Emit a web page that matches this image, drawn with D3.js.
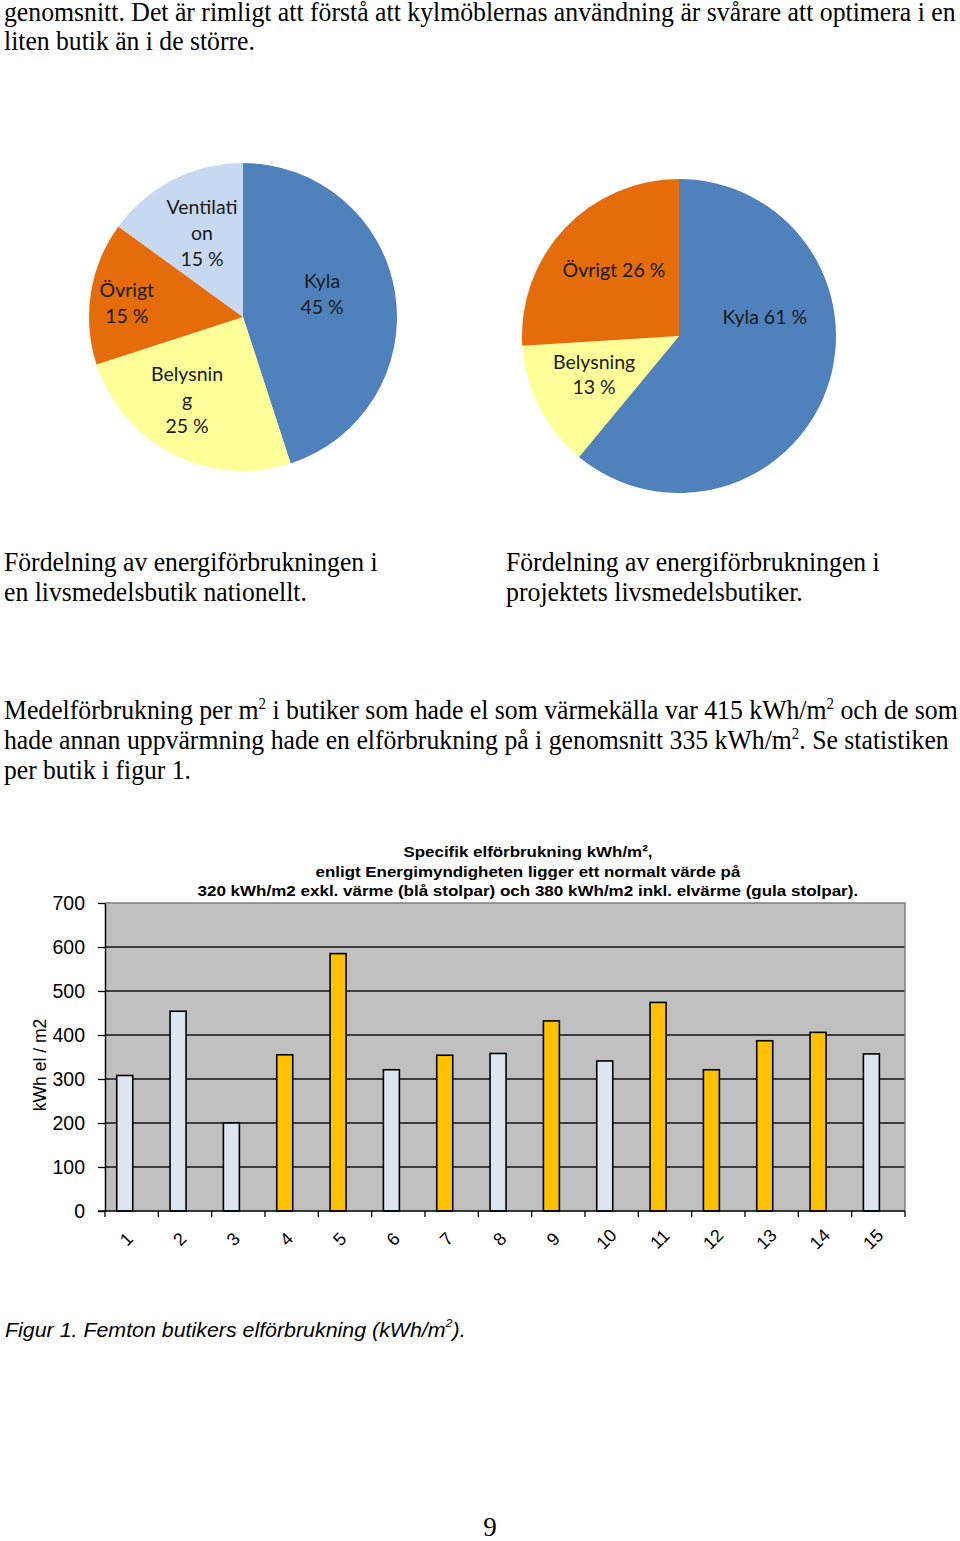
<!DOCTYPE html>
<html>
<head>
<meta charset="utf-8">
<script src="https://cdn.jsdelivr.net/npm/d3@7"></script>
<style>
  body { margin: 0; background: #fff; }
  .serif { font-family: "Liberation Serif", "Times New Roman", serif; font-size: 27px; fill: #000; }
  .sans { font-family: "Liberation Sans", Arial, sans-serif; fill: #000; }
  .pie-label { font-family: Lato, "Open Sans", sans-serif; font-size: 19.5px; fill: #1a1a1a; }
</style>
</head>
<body>
<svg id="page" width="960" height="1541"></svg>
<script>
// ============= Data =============

// national pie (Kyla, Belysning, Övrigt, Ventilation), clockwise from 12 o'clock
const nationalNames = ["Kyla", "Belysning", "Övrigt", "Ventilation"];
const nationalShares = [45, 25, 15, 15];
const nationalLabelLines = [["Kyla", "45 %"], ["Belysnin", "g", "25 %"], ["Övrigt", "15 %"], ["Ventilati", "on", "15 %"]];

// project pie
const projectNames = ["Kyla", "Belysning", "Övrigt"];
const projectShares = [61, 13, 26];
const projectLabelLines = [["Kyla 61 %"], ["Belysning", "13 %"], ["Övrigt 26 %"]];

// bar chart: specific electricity use per store
const stores = ["1", "2", "3", "4", "5", "6", "7", "8", "9", "10", "11", "12", "13", "14", "15"];
const usage = [308, 454, 200, 355, 585, 321, 354, 358, 432, 341, 474, 321, 387, 406, 357];
const heating = ["blå", "blå", "blå", "gul", "gul", "blå", "gul", "blå", "gul", "blå", "gul", "gul", "gul", "gul", "blå"];
const yTicks = [0, 100, 200, 300, 400, 500, 600, 700];

const chartTitle = [
    "Specifik elförbrukning kWh/m²,",
    "enligt Energimyndigheten ligger ett normalt värde på",
    "320 kWh/m2 exkl. värme (blå stolpar) och 380 kWh/m2 inkl. elvärme (gula stolpar)."
];

const sliceColor = { "Kyla": "#4f81bd", "Belysning": "#ffff99", "Övrigt": "#e46c0a", "Ventilation": "#c6d9f1" };
const barColor = { "blå": "#dce6f2", "gul": "#ffc000" };

const svg = d3.select("#page");

// ============= Text helper =============
// draws one line (segments may be {sup: "2"}) and squeezes it to the measured width
function textLine(x, y, segs, width, cls, extra) {
    const t = svg.append("text").attr("class", cls);
    if (extra) extra(t);
    let pending = 0;
    segs.forEach(s => {
        const ts = t.append("tspan");
        if (typeof s === "string") {
            ts.text(s);
            if (pending) { ts.attr("dy", pending); pending = 0; }
        } else {
            ts.text(s.sup).attr("font-size", "58%").attr("dy", -10);
            pending = 10;
        }
    });
    const w = t.node().getComputedTextLength();
    t.attr("transform", `translate(${x},${y}) scale(${width / w},1)`);
    return t;
}

// ============= Body text =============
textLine(4, 21, ["genomsnitt. Det är rimligt att förstå att kylmöblernas användning är svårare att optimera i en"], 952, "serif");
textLine(4, 50, ["liten butik än i de större."], 251, "serif");

textLine(4, 571, ["Fördelning av energiförbrukningen i"], 374, "serif");
textLine(4, 601, ["en livsmedelsbutik nationellt."], 303, "serif");
textLine(506, 571, ["Fördelning av energiförbrukningen i"], 374, "serif");
textLine(506, 601, ["projektets livsmedelsbutiker."], 297, "serif");

textLine(4, 719, ["Medelförbrukning per m", { sup: "2" }, " i butiker som hade el som värmekälla var 415 kWh/m", { sup: "2" }, " och de som"], 954, "serif");
textLine(4, 749, ["hade annan uppvärmning hade en elförbrukning på i genomsnitt 335 kWh/m", { sup: "2" }, ". Se statistiken"], 945, "serif");
textLine(4, 779, ["per butik i figur 1."], 187, "serif");

textLine(5, 1337, ["Figur 1. Femton butikers elförbrukning (kWh/m", { sup: "2" }, ")."], 461, "sans",
    t => t.style("font-size", "20px").style("font-style", "italic"));

svg.append("text").attr("class", "serif")
    .attr("x", 490).attr("y", 1536).attr("text-anchor", "middle").text("9");

// ============= Pies =============
function drawPie(cx, cy, r, names, shares, lines, labelPos, lineGap) {
    const data = names.map((name, i) => ({ name, value: shares[i], lines: lines[i] }));
    const arcs = d3.pie().sort(null).value(d => d.value)(data);
    const arc = d3.arc().innerRadius(0).outerRadius(r);
    const g = svg.append("g").attr("transform", `translate(${cx},${cy})`);

    g.selectAll("path")
        .data(arcs)
        .join("path")
        .attr("d", arc)
        .attr("fill", d => sliceColor[d.data.name]);

    g.selectAll("text")
        .data(arcs)
        .join("text")
        .attr("class", "pie-label")
        .attr("text-anchor", "middle")
        .each(function (d, i) {
            const [deg, frac] = labelPos[i];
            const a = deg * Math.PI / 180;
            const lx = Math.sin(a) * r * frac;
            const ly = -Math.cos(a) * r * frac;
            const n = d.data.lines.length;
            d3.select(this).selectAll("tspan")
                .data(d.data.lines)
                .join("tspan")
                .attr("x", lx)
                .attr("y", (l, j) => ly + (j - (n - 1) / 2) * lineGap)
                .attr("dy", "0.35em")
                .text(l => l);
        });
}

drawPie(243, 317, 154, nationalNames, nationalShares, nationalLabelLines,
    [[74, 0.534], [214, 0.65], [277, 0.76], [334, 0.607]], 26);
drawPie(679, 336, 157, projectNames, projectShares, projectLabelLines,
    [[77.5, 0.56], [245.6, 0.594], [315.4, 0.59]], 25);

// ============= Bar chart =============
const plot = { left: 105, right: 905, top: 903, bottom: 1211 };

const x = d3.scaleBand()
    .domain(stores)
    .range([plot.left, plot.right]);

const y = d3.scaleLinear()
    .domain([0, 700])
    .range([plot.bottom, plot.top]);

const chart = svg.append("g");

chart.append("rect")
    .attr("x", plot.left).attr("y", plot.top)
    .attr("width", plot.right - plot.left).attr("height", plot.bottom - plot.top)
    .attr("fill", "#c0c0c0");

// gridlines
chart.append("g")
    .selectAll("line")
    .data(yTicks.filter(v => v > 0 && v < 700))
    .join("line")
    .attr("x1", plot.left).attr("x2", plot.right)
    .attr("y1", d => y(d)).attr("y2", d => y(d))
    .attr("stroke", "#111").attr("stroke-width", 1.3);

// top / right border
chart.append("path")
    .attr("d", `M${plot.left},${plot.top}H${plot.right}V${plot.bottom}`)
    .attr("fill", "none").attr("stroke", "#7f7f7f").attr("stroke-width", 1.5);

// bars
chart.append("g")
    .selectAll("rect")
    .data(stores)
    .join("rect")
    .attr("x", d => x(d) + x.bandwidth() * 0.22)
    .attr("width", x.bandwidth() * 0.3)
    .attr("y", (d, i) => y(usage[i]))
    .attr("height", (d, i) => y(0) - y(usage[i]))
    .attr("fill", (d, i) => barColor[heating[i]])
    .attr("stroke", "#000").attr("stroke-width", 1.6);

// y axis
const yAxis = chart.append("g")
    .attr("transform", `translate(${plot.left},0)`)
    .call(d3.axisLeft(y).tickValues(yTicks).tickSize(7).tickSizeOuter(0).tickPadding(13));
yAxis.select(".domain").attr("stroke", "#000").attr("stroke-width", 1.5);
yAxis.selectAll(".tick line").attr("stroke", "#000").attr("stroke-width", 1.3);
yAxis.selectAll(".tick text")
    .attr("font-family", "Liberation Sans, Arial, sans-serif")
    .attr("font-size", 19.5).attr("fill", "#000");

// x axis: baseline, boundary ticks, rotated labels
chart.append("line")
    .attr("x1", plot.left - 7).attr("x2", plot.right)
    .attr("y1", y(0)).attr("y2", y(0))
    .attr("stroke", "#000").attr("stroke-width", 1.5);

chart.append("g")
    .selectAll("line")
    .data(stores.map(d => x(d)).concat([x(stores[stores.length - 1]) + x.bandwidth()]))
    .join("line")
    .attr("x1", d => d).attr("x2", d => d)
    .attr("y1", y(0)).attr("y2", y(0) + 6)
    .attr("stroke", "#000").attr("stroke-width", 1.3);

chart.append("g")
    .selectAll("text")
    .data(stores)
    .join("text")
    .attr("class", "sans")
    .attr("font-size", 18)
    .attr("text-anchor", "middle")
    .attr("transform", d => `translate(${x(d) + x.bandwidth() * 0.4},${y(0) + 28}) rotate(-45)`)
    .attr("dy", "0.35em")
    .text(d => d);

// y axis title
svg.append("text")
    .attr("class", "sans")
    .attr("font-size", 17.5)
    .attr("text-anchor", "middle")
    .attr("transform", `translate(46,1065) rotate(-90)`)
    .text("kWh el / m2");

// chart title
const titleWidths = [249, 425, 661];
const titleBase = [857, 877, 896];
chartTitle.forEach((line, i) => {
    textLine(528 - titleWidths[i] / 2, titleBase[i], [line], titleWidths[i], "sans",
        t => t.style("font-size", "15.5px").style("font-weight", "bold"));
});
</script>
</body>
</html>
